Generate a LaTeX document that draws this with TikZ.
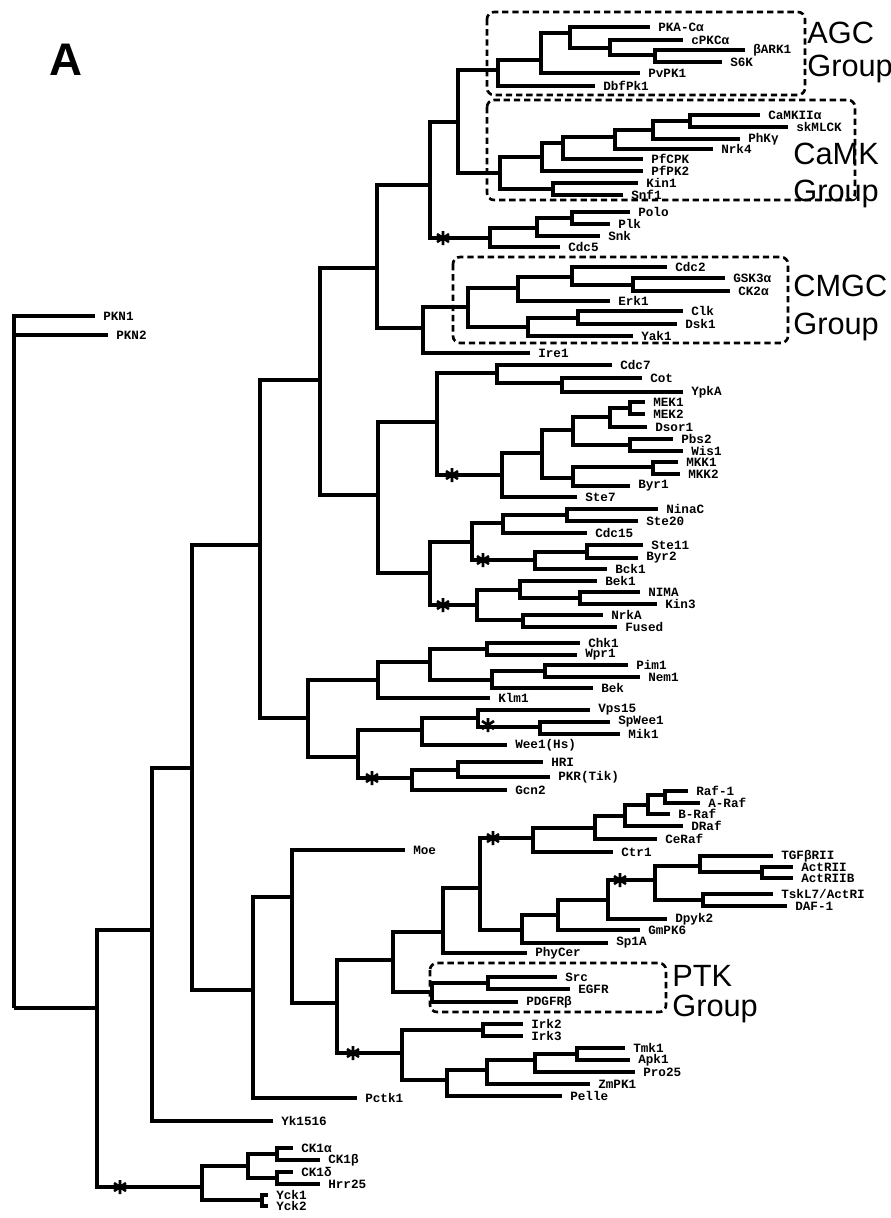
\documentclass[tikz,border=0pt]{standalone}
\usepackage{fontspec}
\setmainfont{Liberation Sans}
\setmonofont{Liberation Mono}
\usetikzlibrary{calc}
\tikzset{
  %% ---- tree ----
  branch/.style = {line width=1.8pt, line join=miter},
  leaf/.style   = {anchor=west, inner xsep=4.5pt, inner ysep=0pt,
                   font=\fontsize{7.2}{8}\selectfont\ttfamily\bfseries},
  %% ---- groups ----
  groupbox/.style   = {line width=1.5pt, dash pattern=on 3.6pt off 2.2pt, rounded corners=4pt},
  grouplabel/.style = {anchor=north west, inner sep=0pt, align=left,
                       font=\fontsize{17.5}{17}\selectfont},
  astmark/.pic = {\draw[line width=1.5pt] (0,-7) -- (0,7) (-6,-4) -- (6,4) (-6,4) -- (6,-4);},
}
\begin{document}
\begin{tikzpicture}[x=0.02cm, y=-0.02cm]
\useasboundingbox (0,0) rectangle (891,1218);
\node[font=\fontsize{26}{26}\selectfont\bfseries] (panel) at (66,60) {A};

%% ---- internal nodes ----
\coordinate (root) at (14,1008);  \coordinate (r1) at (97,1008);   \coordinate (q0) at (152,930);
\coordinate (n192) at (192,768);  \coordinate (n260) at (260,545); \coordinate (n320) at (320,380);
\coordinate (n377) at (377,268);  \coordinate (n430) at (430,185); \coordinate (g0) at (458,122);
\coordinate (a0) at (498,70);  \coordinate (a1) at (541,60);  \coordinate (a2) at (570,33);
\coordinate (a3) at (610,48);  \coordinate (a4) at (655,55);
\coordinate (c0) at (500,173); \coordinate (c1) at (542,157); \coordinate (c2) at (553,189);
\coordinate (c3) at (563,143); \coordinate (c5) at (615,137); \coordinate (c6) at (653,130);
\coordinate (c7) at (690,121);
\coordinate (p0) at (490,238); \coordinate (p1) at (537,228); \coordinate (p2) at (572,218);
\coordinate (n423) at (423,328); \coordinate (m0) at (468,307); \coordinate (m1) at (518,288);
\coordinate (m2) at (528,327);   \coordinate (m3) at (572,277); \coordinate (m4) at (633,285);
\coordinate (m5) at (578,318);
\coordinate (n378) at (378,495); \coordinate (n0) at (437,422); \coordinate (n1) at (497,373);
\coordinate (n2) at (502,475);   \coordinate (n3) at (562,383); \coordinate (n4) at (542,453);
\coordinate (n5) at (573,430);   \coordinate (n6) at (573,478); \coordinate (n7) at (610,417);
\coordinate (n8) at (630,445);   \coordinate (n9) at (630,408); \coordinate (n10) at (653,467);
\coordinate (s0) at (430,573); \coordinate (s1) at (472,542); \coordinate (s2) at (477,605);
\coordinate (s3) at (503,523); \coordinate (s4) at (535,560); \coordinate (s5) at (567,515);
\coordinate (s6) at (587,552); \coordinate (s7) at (520,590); \coordinate (s8) at (523,620);
\coordinate (s9) at (580,598);
\coordinate (n308) at (308,718); \coordinate (k0) at (378,680); \coordinate (k1) at (430,662);
\coordinate (k2) at (487,649);   \coordinate (k3) at (492,680); \coordinate (k4) at (545,671);
\coordinate (w0) at (358,757); \coordinate (w1) at (422,730); \coordinate (w2) at (412,778);
\coordinate (w3) at (478,718); \coordinate (w4) at (540,727); \coordinate (w5) at (458,770);
\coordinate (u0) at (253,990); \coordinate (mo) at (292,897); \coordinate (t0) at (337,1003);
\coordinate (t1) at (393,960); \coordinate (t2) at (402,1053); \coordinate (t3) at (443,932);
\coordinate (t4) at (432,992); \coordinate (t5) at (480,888); \coordinate (t6) at (533,838);
\coordinate (t7) at (522,930); \coordinate (t8) at (558,915); \coordinate (t9) at (608,900);
\coordinate (t10) at (655,880);
\coordinate (raf0) at (595,828); \coordinate (raf1) at (625,816); \coordinate (raf2) at (648,805);
\coordinate (raf3) at (665,795);
\coordinate (tg1) at (700,866); \coordinate (tg2) at (703,900); \coordinate (tg3) at (762,872);
\coordinate (ptk1) at (488,983);
\coordinate (e1) at (483,1030); \coordinate (e2) at (447,1080); \coordinate (e3) at (487,1070);
\coordinate (e4) at (535,1060); \coordinate (e5) at (577,1054);
\coordinate (ck0) at (202,1187); \coordinate (ck1) at (248,1166); \coordinate (ck2) at (277,1154);
\coordinate (ck3) at (277,1178); \coordinate (yck) at (262,1200);

%% ---- leaves ----
\node[leaf] (PKN1) at (95,316) {PKN1};   \node[leaf] (PKN2) at (108,335) {PKN2};
\node[leaf] (PKAC) at (650,27) {PKA-Cα};  \node[leaf] (cPKC) at (683,40) {cPKCα};
\node[leaf] (bARK) at (745,50) {βARK1};   \node[leaf] (S6K) at (722,62) {S6K};
\node[leaf] (PvPK) at (640,73) {PvPK1};   \node[leaf] (DbfPk) at (595,86) {DbfPk1};
\node[leaf] (CaMKII) at (760,115) {CaMKIIα}; \node[leaf] (skMLCK) at (788,127) {skMLCK};
\node[leaf] (PhKg) at (740,139) {PhKγ};   \node[leaf] (Nrk4) at (713,149) {Nrk4};
\node[leaf] (PfCPK) at (643,159) {PfCPK}; \node[leaf] (PfPK2) at (643,171) {PfPK2};
\node[leaf] (Kin1) at (638,183) {Kin1};   \node[leaf] (Snf1) at (623,195) {Snf1};
\node[leaf] (Polo) at (630,212) {Polo};   \node[leaf] (Plk) at (610,224) {Plk};
\node[leaf] (Snk) at (600,236) {Snk};     \node[leaf] (Cdc5) at (560,247) {Cdc5};
\node[leaf] (Cdc2) at (667,267) {Cdc2};   \node[leaf] (GSK3a) at (725,278) {GSK3α};
\node[leaf] (CK2a) at (730,291) {CK2α};   \node[leaf] (Erk1) at (610,301) {Erk1};
\node[leaf] (Clk) at (683,311) {Clk};     \node[leaf] (Dsk1) at (677,324) {Dsk1};
\node[leaf] (Yak1) at (633,336) {Yak1};   \node[leaf] (Ire1) at (530,353) {Ire1};
\node[leaf] (Cdc7) at (612,365) {Cdc7};   \node[leaf] (Cot) at (642,378) {Cot};
\node[leaf] (YpkA) at (683,392) {YpkA};   \node[leaf] (MEK1) at (645,402) {MEK1};
\node[leaf] (MEK2) at (645,414) {MEK2};   \node[leaf] (Dsor1) at (647,427) {Dsor1};
\node[leaf] (Pbs2) at (673,439) {Pbs2};   \node[leaf] (Wis1) at (683,451) {Wis1};
\node[leaf] (MKK1) at (678,462) {MKK1};   \node[leaf] (MKK2) at (680,474) {MKK2};
\node[leaf] (Byr1) at (630,486) {Byr1};   \node[leaf] (Ste7) at (577,497) {Ste7};
\node[leaf] (NinaC) at (658,509) {NinaC}; \node[leaf] (Ste20) at (638,521) {Ste20};
\node[leaf] (Cdc15) at (587,533) {Cdc15}; \node[leaf] (Ste11) at (643,545) {Ste11};
\node[leaf] (Byr2) at (638,558) {Byr2};   \node[leaf] (Bck1) at (607,569) {Bck1};
\node[leaf] (Bek1) at (597,581) {Bek1};   \node[leaf] (NIMA) at (640,592) {NIMA};
\node[leaf] (Kin3) at (657,604) {Kin3};   \node[leaf] (NrkA) at (603,615) {NrkA};
\node[leaf] (Fused) at (617,627) {Fused};
\node[leaf] (Chk1) at (580,643) {Chk1};   \node[leaf] (Wpr1) at (577,655) {Wpr1};
\node[leaf] (Pim1) at (628,665) {Pim1};   \node[leaf] (Nem1) at (640,677) {Nem1};
\node[leaf] (Bek) at (593,688) {Bek};     \node[leaf] (Klm1) at (490,698) {Klm1};
\node[leaf] (Vps15) at (590,710) {Vps15}; \node[leaf] (SpWee1) at (610,722) {SpWee1};
\node[leaf] (Mik1) at (620,734) {Mik1};   \node[leaf] (Wee1) at (507,745) {Wee1(Hs)};
\node[leaf] (HRI) at (543,762) {HRI};     \node[leaf] (PKR) at (550,777) {PKR(Tik)};
\node[leaf] (Gcn2) at (507,790) {Gcn2};
\node[leaf] (Raf1) at (688,791) {Raf-1};  \node[leaf] (ARaf) at (700,803) {A-Raf};
\node[leaf] (BRaf) at (670,814) {B-Raf};  \node[leaf] (DRaf) at (683,826) {DRaf};
\node[leaf] (CeRaf) at (657,839) {CeRaf}; \node[leaf] (Ctr1) at (613,852) {Ctr1};
\node[leaf] (Moe) at (405,850) {Moe};
\node[leaf] (TGFbRII) at (773,856) {TGFβRII}; \node[leaf] (ActRII) at (793,867) {ActRII};
\node[leaf] (ActRIIB) at (793,878) {ActRIIB}; \node[leaf] (TskL7) at (773,894) {TskL7/ActRI};
\node[leaf] (DAF1) at (787,906) {DAF-1};  \node[leaf] (Dpyk2) at (667,919) {Dpyk2};
\node[leaf] (GmPK6) at (640,930) {GmPK6}; \node[leaf] (Sp1A) at (608,943) {Sp1A};
\node[leaf] (PhyCer) at (527,953) {PhyCer};
\node[leaf] (Src) at (557,977) {Src};     \node[leaf] (EGFR) at (570,989) {EGFR};
\node[leaf] (PDGFR) at (518,1002) {PDGFRβ};
\node[leaf] (Irk2) at (523,1024) {Irk2};  \node[leaf] (Irk3) at (523,1036) {Irk3};
\node[leaf] (Tmk1) at (625,1048) {Tmk1};  \node[leaf] (Apk1) at (630,1060) {Apk1};
\node[leaf] (Pro25) at (635,1072) {Pro25}; \node[leaf] (ZmPK1) at (590,1084) {ZmPK1};
\node[leaf] (Pelle) at (562,1096) {Pelle}; \node[leaf] (Pctk1) at (357,1098) {Pctk1};
\node[leaf] (Yk1516) at (273,1121) {Yk1516};
\node[leaf] (CK1a) at (293,1148) {CK1α};  \node[leaf] (CK1b) at (320,1160) {CK1β};
\node[leaf] (CK1d) at (293,1172) {CK1δ};  \node[leaf] (Hrr25) at (320,1184) {Hrr25};
\node[leaf] (Yck1) at (268,1195) {Yck1};  \node[leaf] (Yck2) at (268,1206) {Yck2};

%% ---- branches ----
\draw[branch] (root) |- (PKN1) (root) |- (PKN2) (root) -- (r1);
\draw[branch] (r1) |- (q0) (r1) |- (ck0);
\draw[branch] (q0) |- (n192) (q0) |- (Yk1516);
\draw[branch] (n192) |- (n260) (n192) |- (u0);
\draw[branch] (n260) |- (n320) (n260) |- (n308);
\draw[branch] (n320) |- (n377) (n320) |- (n378);
\draw[branch] (n377) |- (n430) (n377) |- (n423);
\draw[branch] (n430) |- (g0) (n430) |- (p0);
\draw[branch] (g0) |- (a0) (g0) |- (c0);
\draw[branch] (a0) |- (a1) (a0) |- (DbfPk);
\draw[branch] (a1) |- (a2) (a1) |- (PvPK);
\draw[branch] (a2) |- (PKAC) (a2) |- (a3);
\draw[branch] (a3) |- (cPKC) (a3) |- (a4);
\draw[branch] (a4) |- (bARK) (a4) |- (S6K);
\draw[branch] (c0) |- (c1) (c0) |- (c2);
\draw[branch] (c1) |- (c3) (c1) |- (PfPK2);
\draw[branch] (c3) |- (c5) (c3) |- (PfCPK);
\draw[branch] (c5) |- (c6) (c5) |- (Nrk4);
\draw[branch] (c6) |- (c7) (c6) |- (PhKg);
\draw[branch] (c7) |- (CaMKII) (c7) |- (skMLCK);
\draw[branch] (c2) |- (Kin1) (c2) |- (Snf1);
\draw[branch] (p0) |- (p1) (p0) |- (Cdc5);
\draw[branch] (p1) |- (p2) (p1) |- (Snk);
\draw[branch] (p2) |- (Polo) (p2) |- (Plk);
\draw[branch] (n423) |- (m0) (n423) |- (Ire1);
\draw[branch] (m0) |- (m1) (m0) |- (m2);
\draw[branch] (m1) |- (m3) (m1) |- (Erk1);
\draw[branch] (m3) |- (Cdc2) (m3) |- (m4);
\draw[branch] (m4) |- (GSK3a) (m4) |- (CK2a);
\draw[branch] (m2) |- (m5) (m2) |- (Yak1);
\draw[branch] (m5) |- (Clk) (m5) |- (Dsk1);
\draw[branch] (n378) |- (n0) (n378) |- (s0);
\draw[branch] (n0) |- (n1) (n0) |- (n2);
\draw[branch] (n1) |- (Cdc7) (n1) |- (n3);
\draw[branch] (n3) |- (Cot) (n3) |- (YpkA);
\draw[branch] (n2) |- (n4) (n2) |- (Ste7);
\draw[branch] (n4) |- (n5) (n4) |- (n6);
\draw[branch] (n5) |- (n7) (n5) |- (n8);
\draw[branch] (n7) |- (n9) (n7) |- (Dsor1);
\draw[branch] (n9) |- (MEK1) (n9) |- (MEK2);
\draw[branch] (n8) |- (Pbs2) (n8) |- (Wis1);
\draw[branch] (n6) |- (n10) (n6) |- (Byr1);
\draw[branch] (n10) |- (MKK1) (n10) |- (MKK2);
\draw[branch] (s0) |- (s1) (s0) |- (s2);
\draw[branch] (s1) |- (s3) (s1) |- (s4);
\draw[branch] (s3) |- (s5) (s3) |- (Cdc15);
\draw[branch] (s5) |- (NinaC) (s5) |- (Ste20);
\draw[branch] (s4) |- (s6) (s4) |- (Bck1);
\draw[branch] (s6) |- (Ste11) (s6) |- (Byr2);
\draw[branch] (s2) |- (s7) (s2) |- (s8);
\draw[branch] (s7) |- (Bek1) (s7) |- (s9);
\draw[branch] (s9) |- (NIMA) (s9) |- (Kin3);
\draw[branch] (s8) |- (NrkA) (s8) |- (Fused);
\draw[branch] (n308) |- (k0) (n308) |- (w0);
\draw[branch] (k0) |- (k1) (k0) |- (Klm1);
\draw[branch] (k1) |- (k2) (k1) |- (k3);
\draw[branch] (k2) |- (Chk1) (k2) |- (Wpr1);
\draw[branch] (k3) |- (k4) (k3) |- (Bek);
\draw[branch] (k4) |- (Pim1) (k4) |- (Nem1);
\draw[branch] (w0) |- (w1) (w0) |- (w2);
\draw[branch] (w1) |- (w3) (w1) |- (Wee1);
\draw[branch] (w3) |- (Vps15) (w3) |- (w4);
\draw[branch] (w4) |- (SpWee1) (w4) |- (Mik1);
\draw[branch] (w2) |- (w5) (w2) |- (Gcn2);
\draw[branch] (w5) |- (HRI) (w5) |- (PKR);
\draw[branch] (u0) |- (mo) (u0) |- (Pctk1);
\draw[branch] (mo) |- (Moe) (mo) |- (t0);
\draw[branch] (t0) |- (t1) (t0) |- (t2);
\draw[branch] (t1) |- (t3) (t1) |- (t4);
\draw[branch] (t3) |- (t5) (t3) |- (PhyCer);
\draw[branch] (t5) |- (t6) (t5) |- (t7);
\draw[branch] (t6) |- (raf0) (t6) |- (Ctr1);
\draw[branch] (raf0) |- (raf1) (raf0) |- (CeRaf);
\draw[branch] (raf1) |- (raf2) (raf1) |- (DRaf);
\draw[branch] (raf2) |- (raf3) (raf2) |- (BRaf);
\draw[branch] (raf3) |- (Raf1) (raf3) |- (ARaf);
\draw[branch] (t7) |- (t8) (t7) |- (Sp1A);
\draw[branch] (t8) |- (t9) (t8) |- (GmPK6);
\draw[branch] (t9) |- (t10) (t9) |- (Dpyk2);
\draw[branch] (t10) |- (tg1) (t10) |- (tg2);
\draw[branch] (tg1) |- (TGFbRII) (tg1) |- (tg3);
\draw[branch] (tg3) |- (ActRII) (tg3) |- (ActRIIB);
\draw[branch] (tg2) |- (TskL7) (tg2) |- (DAF1);
\draw[branch] (t4) |- (ptk1) (t4) |- (PDGFR);
\draw[branch] (ptk1) |- (Src) (ptk1) |- (EGFR);
\draw[branch] (t2) |- (e1) (t2) |- (e2);
\draw[branch] (e1) |- (Irk2) (e1) |- (Irk3);
\draw[branch] (e2) |- (e3) (e2) |- (Pelle);
\draw[branch] (e3) |- (e4) (e3) |- (ZmPK1);
\draw[branch] (e4) |- (e5) (e4) |- (Pro25);
\draw[branch] (e5) |- (Tmk1) (e5) |- (Apk1);
\draw[branch] (ck0) |- (ck1) (ck0) |- (yck);
\draw[branch] (ck1) |- (ck2) (ck1) |- (ck3);
\draw[branch] (ck2) |- (CK1a) (ck2) |- (CK1b);
\draw[branch] (ck3) |- (CK1d) (ck3) |- (Hrr25);
\draw[branch] (yck) |- (Yck1) (yck) |- (Yck2);

%% ---- asterisks ----
\foreach \ax/\ay in {443/238, 452/475, 483/560, 443/605, 372/778, 488/725,
                     493/838, 620/880, 353/1053, 120/1187}
  \pic at (\ax,\ay) {astmark};

%% ---- groups ----
\draw[groupbox] (487,12) rectangle (805,95);
\draw[groupbox] (487,100) rectangle (855,200);
\draw[groupbox] (453,257) rectangle (788,343);
\draw[groupbox] (430,963) rectangle (666,1012);
\node[grouplabel] (agc)  at (807,22)  {AGC\\[1.7pt]Group};
\node[grouplabel] (camk) at (793,143) {CaMK\\[4pt]Group};
\node[grouplabel] (cmgc) at (793,275) {CMGC\\[4.5pt]Group};
\node[grouplabel] (ptk)  at (672,965) {PTK\\Group};
\end{tikzpicture}
\end{document}
